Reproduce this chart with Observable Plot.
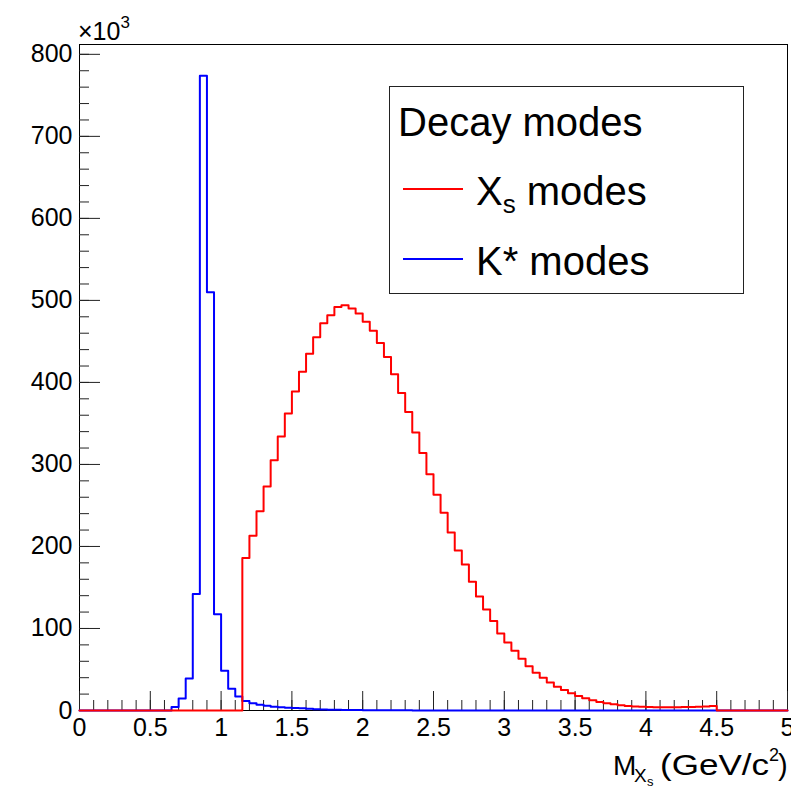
<!DOCTYPE html>
<html>
<head>
<meta charset="utf-8">
<script src="https://cdn.jsdelivr.net/npm/d3@7"></script>
<script src="https://cdn.jsdelivr.net/npm/@observablehq/plot@0.6"></script>
<style>
  body { margin: 0; background: #fff; }
  svg { display: block; }
</style>
</head>
<body>
<div id="chart"></div>
<script>
// Histogram binning: 100 bins of 0.05 GeV/c^2 from 0 to 5
const binLow = 0;
const binWidth = 0.05;
const nBins = 100;

// Bin contents (in units of 10^3 events)
const seriesNames = ["X_s modes", "K* modes"];
const seriesColors = ["#ff0000", "#0000ff"];

const xsModes = [
  0, 0, 0, 0, 0, 0, 0, 0, 0, 0,
  0, 0, 0, 0, 0, 0, 0, 0, 0, 0,
  0, 0, 0, 186, 213, 243, 273, 305, 334, 362,
  389, 413, 435, 455, 472, 482, 492, 494, 490, 484,
  474, 463, 448, 431, 410, 387, 364, 339, 314, 288,
  263, 241, 217, 195, 178, 157, 139, 123, 109, 94,
  83, 73, 63, 54, 46, 40, 34, 29, 25, 21,
  17.7, 15, 12.4, 10.4, 8.8, 7.6, 6.4, 5.6, 5.0, 4.6,
  4.2, 4.0, 3.9, 3.9, 4.0, 4.2, 4.4, 4.7, 5.0, 5.4,
  0, 0, 0, 0, 0, 0, 0, 0, 0, 0
];

const kstarModes = [
  0, 0, 0, 0, 0, 0, 0, 0, 0, 0,
  0, 0, 0, 4.3, 14.5, 39, 142, 774, 510, 117.5,
  48.5, 26.5, 17, 11.6, 8.8, 7.1, 5.9, 4.6, 3.9, 3.5,
  3.0, 2.6, 2.2, 1.5, 1.2, 1.0, 0.8, 0.7, 0.6, 0.5,
  0.45, 0.4, 0.35, 0.3, 0.25, 0.2, 0.2, 0.15, 0.15, 0.1,
  0.1, 0, 0, 0, 0, 0, 0, 0, 0, 0,
  0, 0, 0, 0, 0, 0, 0, 0, 0, 0,
  0, 0, 0, 0, 0, 0, 0, 0, 0, 0,
  0, 0, 0, 0, 0, 0, 0, 0, 0, 0,
  0, 0, 0, 0, 0, 0, 0, 0, 0, 0
];

// Tick values
const xMajorTicks = [0, 0.5, 1, 1.5, 2, 2.5, 3, 3.5, 4, 4.5, 5];
const xMinorTicks = d3.range(0, 51).map(i => i / 10);
const yMajorTicks = [0, 100, 200, 300, 400, 500, 600, 700, 800];
const yMinorTicks = d3.range(0, 41).map(i => i * 20);

const yMax = 812;
const font = "'Liberation Sans', Arial, Helvetica, sans-serif";

// histogram outline points (left edge of each bin + right end)
function steps(values) {
  const pts = values.map((v, i) => ({x: binLow + i * binWidth, y: v}));
  pts.push({x: binLow + nBins * binWidth, y: values[values.length - 1]});
  return pts;
}

const chart = Plot.plot({
  width: 791,
  height: 786,
  marginLeft: 79,
  marginRight: 4,
  marginTop: 44,
  marginBottom: 76,
  x: {domain: [0, 5]},
  y: {domain: [0, yMax]},
  style: {fontFamily: font, fontSize: "25px", color: "black", background: "white"},
  marks: [
    Plot.frame({stroke: "black", strokeWidth: 1}),
    Plot.axisY(yMinorTicks, {tickSize: -10, fill: "none", label: null, stroke: "#222"}),
    Plot.axisY(yMajorTicks, {tickSize: -21, fill: "none", label: null, stroke: "#222"}),
    Plot.axisY(yMajorTicks, {tickSize: 0, tickPadding: 7, fontSize: 25, label: null, tickFormat: d => `${d}`}),
    Plot.axisX(xMinorTicks, {tickSize: -10, fill: "none", label: null, stroke: "#222"}),
    Plot.axisX(xMajorTicks, {tickSize: -19, fill: "none", label: null, stroke: "#222"}),
    Plot.axisX(xMajorTicks, {tickSize: 0, tickPadding: 8, fontSize: 25, label: null, tickFormat: d => `${d}`}),
    Plot.line(steps(kstarModes), {x: "x", y: "y", curve: "step-after", stroke: seriesColors[1], strokeWidth: 2}),
    Plot.line(steps(xsModes), {x: "x", y: "y", curve: "step-after", stroke: seriesColors[0], strokeWidth: 2})
  ]
});

document.getElementById("chart").appendChild(chart);

const svg = d3.select(chart);

// x10^3 exponent label
const ex = svg.append("text")
  .attr("x", 78).attr("y", 40).attr("text-anchor", "start")
  .attr("font-family", font).attr("font-size", 25).attr("fill", "black");
ex.append("tspan").text("×10");
ex.append("tspan").attr("dy", -12).attr("font-size", 17).text("3");

// x axis title: M_{X_s} (GeV/c^2)
const tt = svg.append("g").attr("font-family", font).attr("fill", "black").attr("text-anchor", "start");
tt.append("text").attr("x", 613).attr("y", 775).attr("font-size", 28).text("M");
tt.append("text").attr("x", 634).attr("y", 782).attr("font-size", 19).text("X");
tt.append("text").attr("x", 647).attr("y", 786).attr("font-size", 13).text("s");
tt.append("text").attr("x", 660).attr("y", 775).attr("font-size", 29)
  .attr("textLength", 109).attr("lengthAdjust", "spacingAndGlyphs").text("(GeV/c");
tt.append("text").attr("x", 769).attr("y", 761).attr("font-size", 18).text("2");
tt.append("text").attr("x", 778).attr("y", 775).attr("font-size", 29).text(")");

// legend
const lg = svg.append("g").attr("font-family", font).attr("fill", "black").attr("text-anchor", "start");
lg.append("rect")
  .attr("x", 389.5).attr("y", 86.5).attr("width", 354).attr("height", 207)
  .attr("fill", "white").attr("stroke", "#222").attr("stroke-width", 1);
lg.append("text").attr("x", 398).attr("y", 136).attr("font-size", 40).text("Decay modes");

const entryY = [189, 259];
seriesNames.forEach((name, i) => {
  lg.append("line")
    .attr("x1", 403).attr("x2", 463).attr("y1", entryY[i]).attr("y2", entryY[i])
    .attr("stroke", seriesColors[i]).attr("stroke-width", 2);
  const t = lg.append("text").attr("x", 476).attr("y", entryY[i] + 16).attr("font-size", 40);
  if (name.startsWith("X_s")) {
    t.append("tspan").text("X");
    t.append("tspan").attr("dy", 8).attr("font-size", 26).text("s");
    t.append("tspan").attr("dy", -8).attr("font-size", 40).text(" modes");
  } else {
    t.text(name);
  }
});
</script>
</body>
</html>
